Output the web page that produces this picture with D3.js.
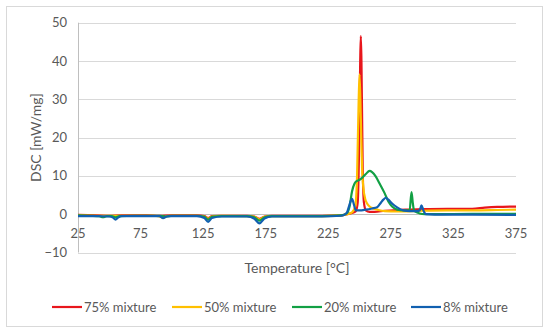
<!DOCTYPE html>
<html>
<head>
<meta charset="utf-8">
<script src="https://cdn.jsdelivr.net/npm/d3@7"></script>
<style>
  body { margin: 0; background: #fff; }
  svg text { font-family: Lato, "Liberation Sans", sans-serif; fill: #595959; }
</style>
</head>
<body>
<svg id="chart" width="550" height="335"></svg>
<script>
// Données

const xTicks = [25, 75, 125, 175, 225, 275, 325, 375];
const yTicks = [-10, 0, 10, 20, 30, 40, 50];

const seriesNames = ["75% mixture", "50% mixture", "20% mixture", "8% mixture"];
const seriesColors = ["#e8161c", "#ffc000", "#12a044", "#1160b0"];

const temp75 = [25, 40, 50, 60, 80, 90, 100, 120, 126, 129, 132, 140, 160, 166, 170, 174, 180, 200, 220, 235, 240, 244, 247, 248.5, 249.5, 250.5, 251, 251.5, 252.5, 253.5, 255, 258, 262, 270, 280, 290, 300, 320, 340, 350, 360, 375];
const dsc75 = [-0.2, -0.3, -0.4, -0.3, -0.3, -0.4, -0.3, -0.3, -0.5, -1, -0.5, -0.4, -0.4, -0.6, -1.2, -0.6, -0.4, -0.4, -0.4, -0.3, 0, 0.3, 0.8, 3, 15, 40, 46.5, 40, 12, 3, 1, 0.6, 0.6, 0.9, 1.1, 1.2, 1.3, 1.4, 1.4, 1.7, 1.9, 2.0];

const temp50 = [25, 40, 60, 85, 90, 93, 96, 100, 120, 126, 129, 132, 140, 160, 166, 170, 174, 180, 200, 220, 235, 240, 244, 246.5, 248, 249.3, 250, 251, 252, 253, 254.5, 256, 258, 261, 265, 270, 280, 300, 320, 340, 360, 375];
const dsc50 = [-0.3, -0.4, -0.4, -0.4, -0.6, -0.9, -0.5, -0.4, -0.4, -0.6, -1.2, -0.6, -0.4, -0.5, -0.7, -1.4, -0.7, -0.5, -0.5, -0.5, -0.3, 0, 0.5, 2, 10, 30, 36.5, 25, 12, 7, 4, 2.8, 2, 1.5, 1.1, 0.8, 0.7, 0.9, 1, 1, 1.1, 1.2];

const temp20 = [25, 35, 42, 45, 48, 52, 55, 58, 70, 90, 95, 100, 120, 126, 129, 132, 140, 160, 166, 170, 174, 180, 200, 220, 235, 240, 242, 244, 246, 248, 250, 252, 255, 258, 260, 263, 266, 270, 273, 276, 280, 285, 290, 291.5, 292.5, 293.5, 295, 298, 302, 310, 340, 375];
const dsc20 = [-0.3, -0.4, -0.5, -0.8, -0.5, -0.5, -0.8, -0.5, -0.4, -0.4, -0.6, -0.4, -0.4, -0.7, -1.4, -0.7, -0.5, -0.5, -0.8, -1.7, -0.8, -0.5, -0.5, -0.5, -0.3, 0.3, 2, 6, 8, 8.7, 9, 9.5, 10.5, 11.3, 11, 9.8, 8, 5.5, 3.3, 2, 1.2, 1, 1, 5.8, 3, 1, 0.6, 0.2, 0, 0, 0.1, 0.1];

const temp8 = [25, 40, 50, 53, 55, 57, 60, 80, 90, 93, 96, 100, 120, 126, 129, 132, 140, 160, 166, 170, 174, 180, 200, 220, 235, 238, 240, 241.5, 243, 244, 245.5, 247, 250, 255, 260, 264, 267, 269, 271, 273, 276, 280, 285, 290, 295, 298, 299.5, 301, 303, 310, 340, 375];
const dsc8 = [-0.5, -0.5, -0.6, -0.9, -1.4, -0.9, -0.5, -0.5, -0.5, -1, -0.6, -0.5, -0.5, -1, -2, -1, -0.6, -0.6, -1.2, -2.4, -1.1, -0.6, -0.6, -0.6, -0.4, -0.1, 0.5, 2, 3.5, 4, 2.5, 1, 1, 1.2, 1.5, 1.8, 3, 3.8, 4.3, 3.8, 2.8, 1.8, 1, 0.8, 0.8, 1, 2.3, 1, 0, -0.1, -0.1, -0.2];

const allTemps = [temp75, temp50, temp20, temp8];
const allDsc = [dsc75, dsc50, dsc20, dsc8];

// Mise en page

const svg = d3.select("#chart");
const plot = { left: 78, right: 516, top: 22.7, bottom: 252.5 };

svg.append("rect")
  .attr("x", 6.5).attr("y", 6.5)
  .attr("width", 536).attr("height", 320)
  .attr("fill", "#fff")
  .attr("stroke", "#d9d9d9");

const x = d3.scaleLinear().domain([25, 375]).range([plot.left, plot.right]);
const y = d3.scaleLinear().domain([-10, 50]).range([plot.bottom, plot.top]);

// Grille horizontale
svg.append("g")
  .selectAll("line")
  .data(yTicks)
  .join("line")
  .attr("x1", plot.left).attr("x2", plot.right)
  .attr("y1", (d) => Math.round(y(d)) + 0.5)
  .attr("y2", (d) => Math.round(y(d)) + 0.5)
  .attr("stroke", (d) => (d === 0 ? "#bfbfbf" : "#d9d9d9"))
  .attr("stroke-width", 1);

// Axe vertical
svg.append("line")
  .attr("x1", plot.left + 0.5).attr("x2", plot.left + 0.5)
  .attr("y1", plot.top).attr("y2", plot.bottom)
  .attr("stroke", "#bfbfbf");

// Étiquettes Y
svg.append("g")
  .selectAll("text")
  .data(yTicks)
  .join("text")
  .attr("x", 67)
  .attr("y", (d) => y(d))
  .attr("dy", "0.35em")
  .attr("text-anchor", "end")
  .style("font-size", "13px")
  .text((d) => (d < 0 ? "\u2212" + Math.abs(d) : d));

// Étiquettes X (sous la ligne zéro)
svg.append("g")
  .selectAll("text")
  .data(xTicks)
  .join("text")
  .attr("x", (d) => x(d))
  .attr("y", y(0) + 24)
  .attr("text-anchor", "middle")
  .style("font-size", "13px")
  .text((d) => d);

// Titres des axes
svg.append("text")
  .attr("x", (plot.left + plot.right) / 2)
  .attr("y", 273)
  .attr("text-anchor", "middle")
  .style("font-size", "14px")
  .text("Temperature [°C]");

svg.append("text")
  .attr("transform", "translate(41," + (plot.top + plot.bottom) / 2 + ") rotate(-90)")
  .attr("text-anchor", "middle")
  .style("font-size", "14px")
  .text("DSC [mW/mg]");

// Courbes
svg.append("clipPath").attr("id", "clip")
  .append("rect")
  .attr("x", plot.left).attr("y", plot.top - 5)
  .attr("width", plot.right - plot.left).attr("height", plot.bottom - plot.top + 5);

const line = d3.line()
  .x((d) => x(d[0]))
  .y((d) => y(d[1]))
  .curve(d3.curveMonotoneX);

const curves = svg.append("g").attr("clip-path", "url(#clip)");
seriesNames.forEach((name, i) => {
  const pts = allTemps[i].map((t, j) => [t, allDsc[i][j]]);
  curves.append("path")
    .datum(pts)
    .attr("fill", "none")
    .attr("stroke", seriesColors[i])
    .attr("stroke-width", 2.2)
    .attr("stroke-linejoin", "round")
    .attr("d", line);
});

// Légende
const legendX = [52, 172, 292, 411];
const legend = svg.append("g");
seriesNames.forEach((name, i) => {
  legend.append("line")
    .attr("x1", legendX[i]).attr("x2", legendX[i] + 30)
    .attr("y1", 307).attr("y2", 307)
    .attr("stroke", seriesColors[i])
    .attr("stroke-width", 2.2);
  legend.append("text")
    .attr("x", legendX[i] + 32)
    .attr("y", 307)
    .attr("dy", "0.35em")
    .style("font-size", "13px")
    .text(name);
});
</script>
</body>
</html>
